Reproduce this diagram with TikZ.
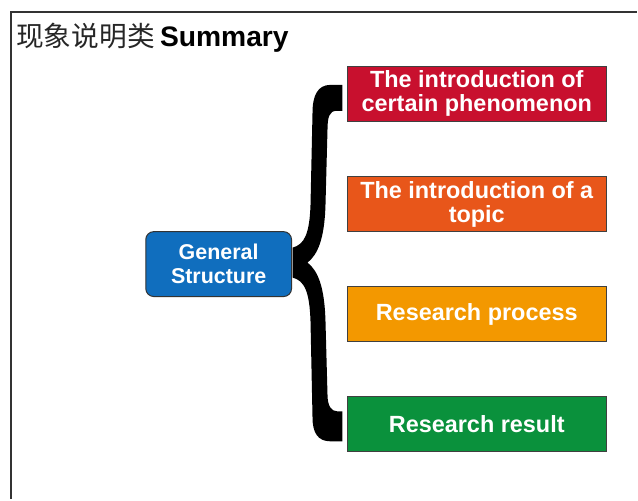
\documentclass[tikz,border=0pt]{standalone}
\usepackage{fontspec}
\setmainfont{Liberation Sans}
\newfontfamily\cjkfont{Noto Sans CJK SC}
\usepackage{xcolor}
\usetikzlibrary{shapes,arrows}

\definecolor{partRed}{RGB}{200,16,46}
\definecolor{partOrange}{RGB}{232,86,26}
\definecolor{partAmber}{RGB}{243,152,0}
\definecolor{partGreen}{RGB}{10,145,60}
\definecolor{genBlue}{RGB}{16,110,190}

\tikzset{
  partbox/.style={draw=black!75, line width=0.75pt, text=white, align=center,
    font=\fontsize{17.6}{18}\selectfont\bfseries,
    minimum width=194.25pt, minimum height=41.25pt, inner sep=0pt},
  genbox/.style={draw=black!80, line width=0.75pt, fill=genBlue, text=white, align=center,
    rounded corners=6pt, font=\fontsize{16.1}{18}\selectfont\bfseries,
    minimum width=109.5pt, minimum height=48.75pt, inner sep=0pt},
}

\begin{document}
\begin{tikzpicture}[x=0.75pt,y=0.75pt,yscale=-1,xscale=1]
        \path (0,0) rectangle (638,500); %page size

        %Frame
        \draw [line width=1.5pt, color=black!80]  (11,500) -- (11,12.5) -- (638,12.5) ;

        % Text Node
        \node (title) [anchor=base west, inner sep=0pt] at (16,47) {{\cjkfont\fontsize{20.8}{22}\selectfont\color{black!85}现象说明类}\hspace{4pt}{\fontsize{21.2}{22}\selectfont\bfseries Summary}};

        %Brace
        \fill [black]  (343,85) -- (343,111) -- (337,111) .. controls (330,111) and (328,117) .. (328,130) -- (326,205) .. controls (325,240) and (318,255) .. (308,263) .. controls (318,271) and (325,286) .. (326,322) -- (328,395) .. controls (328,407) and (332,412) .. (338,412) -- (343,412) -- (343,442) -- (331,442) .. controls (318,442) and (313,433) .. (313,418) -- (311,322) .. controls (310,292) and (305,281) .. (293,278) -- (293,248) .. controls (305,245) and (310,234) .. (311,205) -- (313,113) .. controls (313,96) and (318,85) .. (331,85) -- cycle ;

        % Text Node
        \node (general) [genbox] at (219,264.5) {General\\Structure};
        % Text Node
        \node (phenomenon) [partbox, fill=partRed] at (477.5,94) {The introduction of\\certain phenomenon};
        % Text Node
        \node (topic) [partbox, fill=partOrange] at (477.5,204.5) {The introduction of a\\topic};
        % Text Node
        \node (process) [partbox, fill=partAmber] at (477.5,314.5) {Research process};
        % Text Node
        \node (result) [partbox, fill=partGreen] at (477.5,425) {Research result};

\end{tikzpicture}
\end{document}
